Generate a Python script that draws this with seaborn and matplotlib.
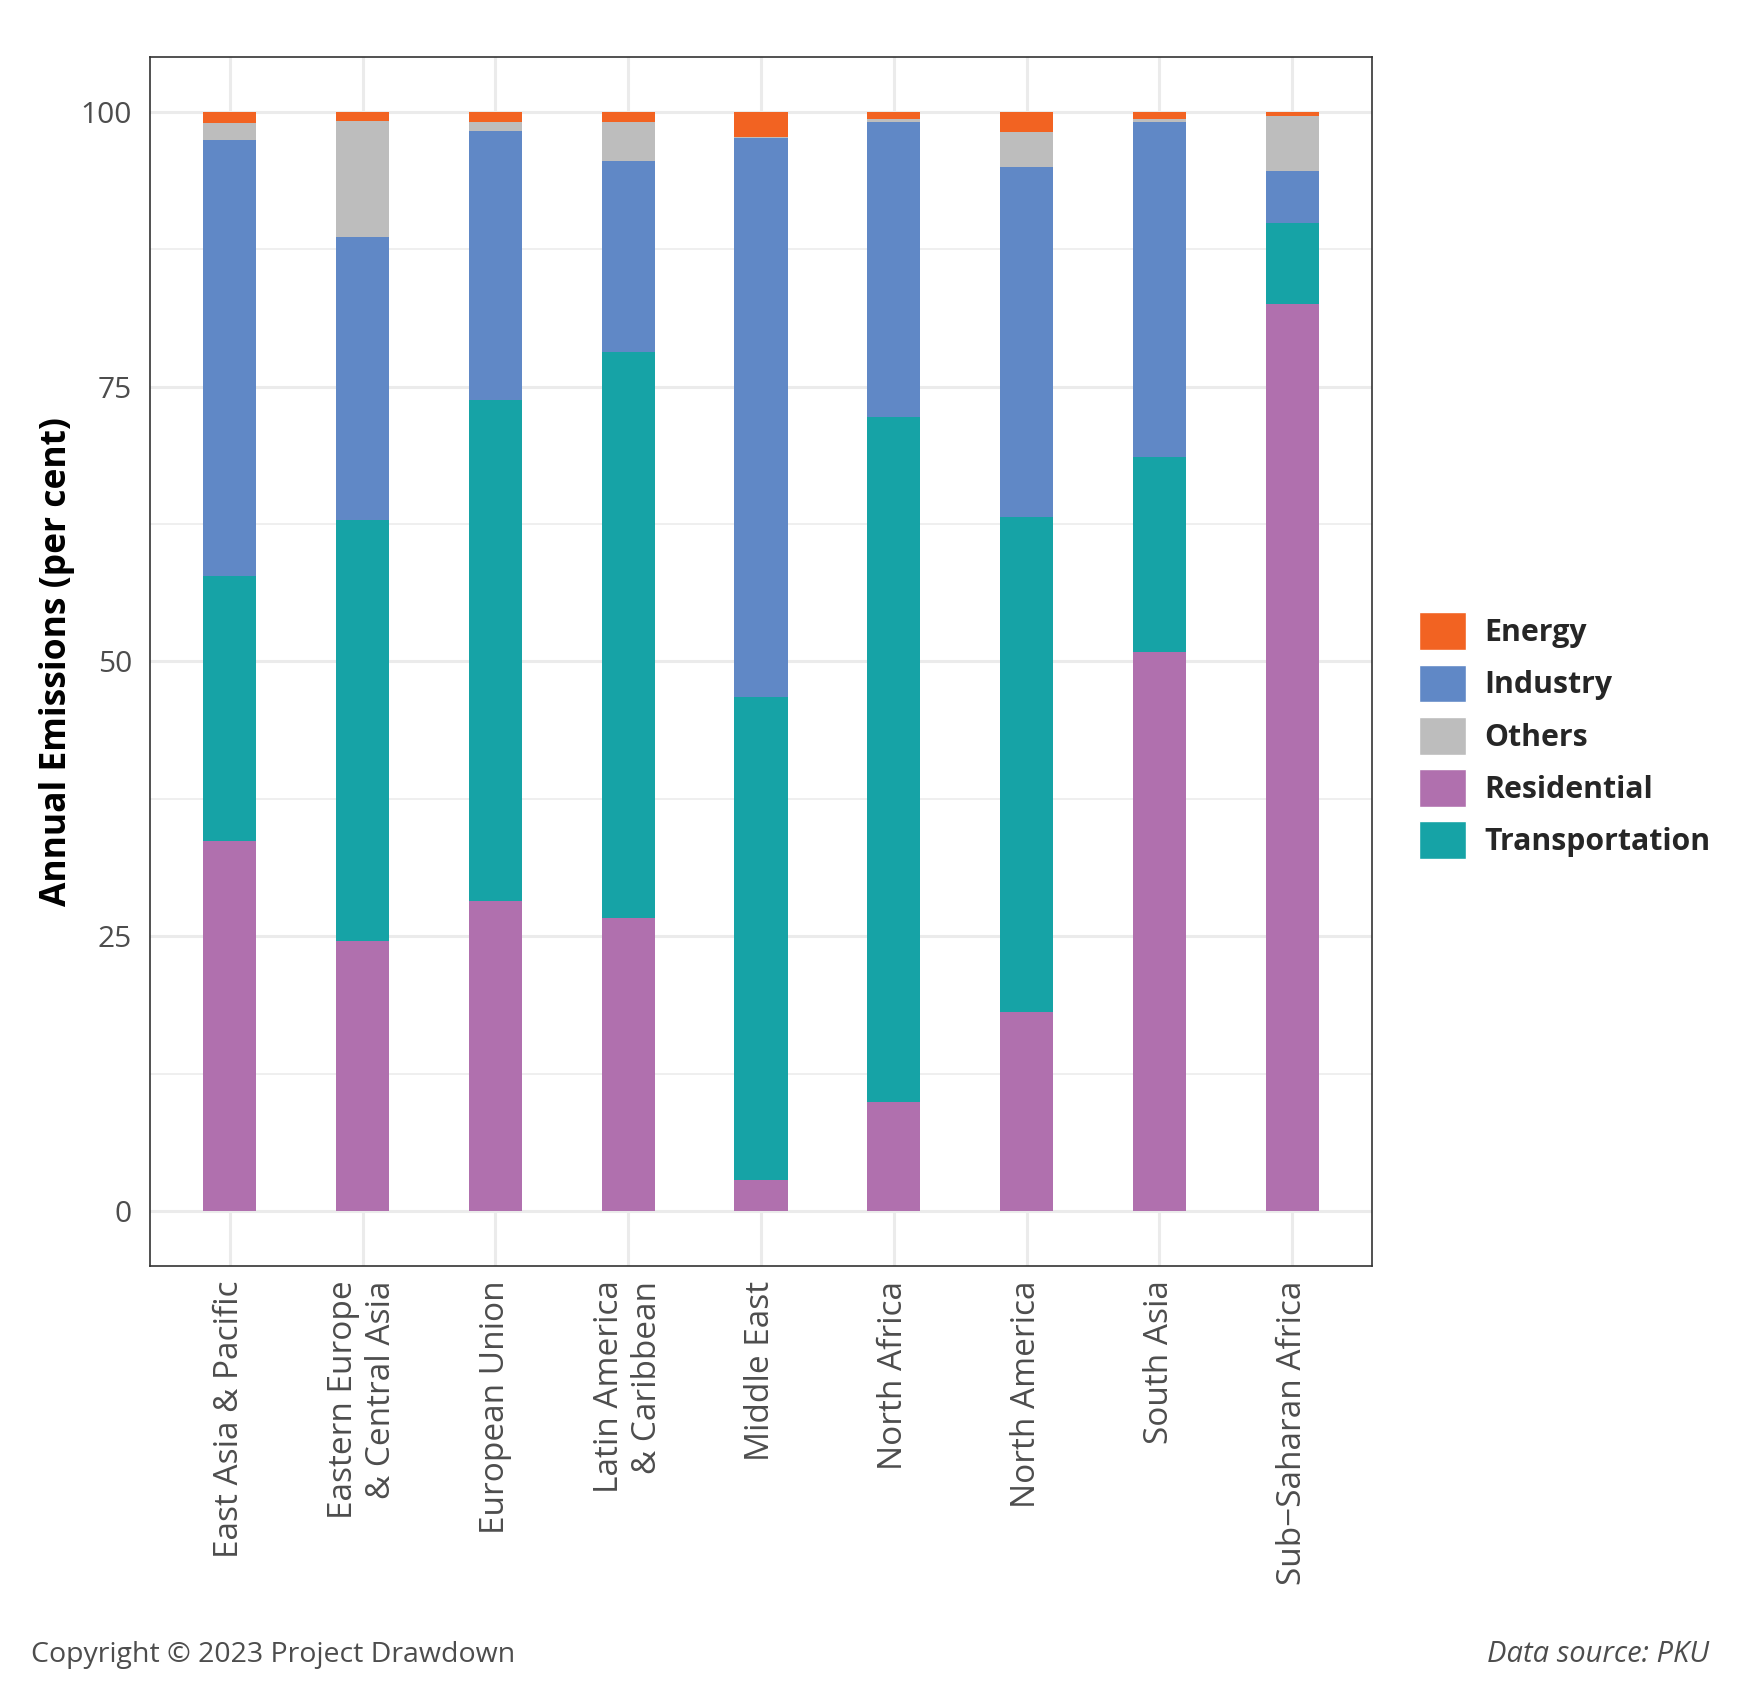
import seaborn as sns
import pandas as pd
import matplotlib.pyplot as plt
from matplotlib.patches import Patch

# regioes e participacao de cada setor (per cent)
regions = ['East Asia & Pacific', 'Eastern Europe\n& Central Asia', 'European Union',
           'Latin America\n& Caribbean', 'Middle East', 'North Africa', 'North America',
           'South Asia', 'Sub\u2212Saharan Africa']
residential = [33.7, 24.6, 28.2, 26.7, 2.8, 9.9, 18.1, 50.9, 82.5]
transportation = [24.1, 38.3, 45.6, 51.5, 44.0, 62.3, 45.0, 17.7, 7.4]
industry = [39.6, 25.7, 24.5, 17.3, 50.8, 26.9, 31.9, 30.5, 4.7]
others = [1.6, 10.6, 0.8, 3.6, 0.1, 0.3, 3.2, 0.3, 5.0]
energy = [1.0, 0.8, 0.9, 0.9, 2.3, 0.6, 1.8, 0.6, 0.4]

colors = {'Energy': '#F26322', 'Industry': '#6088C6', 'Others': '#BDBDBD',
          'Residential': '#B070AE', 'Transportation': '#16A3A6'}

df = pd.DataFrame({'region': regions, 'Residential': residential,
                   'Transportation': transportation, 'Industry': industry,
                   'Others': others, 'Energy': energy})

# ordem de empilhamento (de baixo para cima)
stack = ['Residential', 'Transportation', 'Industry', 'Others', 'Energy']
cum = df[stack].cumsum(axis=1)

sns.set_style('white')
plt.rcParams['font.family'] = ['Open Sans', 'DejaVu Sans']

fig = plt.figure(figsize=(17.4, 16.95), dpi=100)
ax = fig.add_axes([0.0862, 0.2531, 0.7023, 0.7133])

# desenhar do topo para baixo (somas acumuladas)
for s in reversed(stack):
    sns.barplot(x=df['region'], y=cum[s], color=colors[s], width=0.4,
                saturation=1, ax=ax, zorder=3, linewidth=0)

ax.set_xlim(-0.6, len(regions) - 0.4)
ax.set_ylim(-5, 105)
ax.set_yticks([0, 25, 50, 75, 100])
ax.set_yticks([12.5, 37.5, 62.5, 87.5], minor=True)
ax.grid(True, which='major', color='#EBEBEB', linewidth=2.2, zorder=0)
ax.grid(True, which='minor', axis='y', color='#EBEBEB', linewidth=1.1, zorder=0)
ax.set_axisbelow(True)
for sp in ax.spines.values():
    sp.set_visible(True)
    sp.set_color('#333333')
    sp.set_linewidth(1.2)

ax.tick_params(axis='both', which='major', length=7, width=2, color='#333333',
               labelsize=21.5, labelcolor='#4D4D4D')
ax.tick_params(axis='x', labelsize=24)
ax.tick_params(axis='y', which='minor', length=0)
ax.tick_params(axis='y', pad=6)
plt.setp(ax.get_xticklabels(), rotation=90, ha='center', va='top',
         multialignment='right', rotation_mode='default')
ax.set_xlabel('')
ax.set_ylabel('Annual Emissions (per cent)', fontsize=25.5, fontweight='bold',
              color='black', labelpad=4)

handles = [Patch(facecolor=colors[k], edgecolor='white', label=k)
           for k in ['Energy', 'Industry', 'Others', 'Residential', 'Transportation']]
leg = fig.legend(handles=handles, loc='center left', bbox_to_anchor=(0.8, 0.566),
                 frameon=False, prop={'size': 21.8, 'weight': 'bold'},
                 handlelength=1.55, handleheight=1.55, labelspacing=0.47,
                 handletextpad=0.6)

fig.text(0.018, 0.0236, 'Copyright \u00a9 2023 Project Drawdown', fontsize=20.5,
         color='#4D4D4D', ha='left', va='center')
fig.text(0.982, 0.0236, 'Data source: PKU', fontsize=21, color='#4D4D4D',
         ha='right', va='center', style='italic')

fig.savefig('out.png', dpi=100)
